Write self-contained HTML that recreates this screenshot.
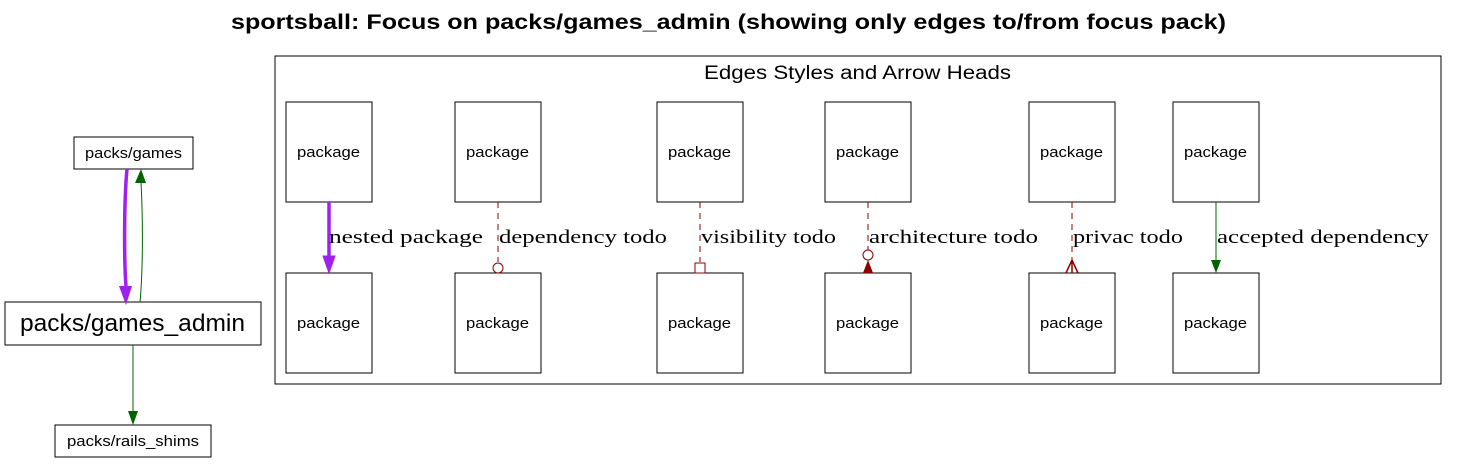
<!DOCTYPE html>
<html><head><style>body{margin:0;background:#fff}</style></head><body>
<svg width="1458" height="463" xmlns="http://www.w3.org/2000/svg" font-family="Liberation Sans, sans-serif">
<rect width="1458" height="463" fill="#fff"/>
<text x="231" y="29" font-size="21" font-weight="bold" textLength="995" lengthAdjust="spacingAndGlyphs">sportsball: Focus on packs/games_admin (showing only edges to/from focus pack)</text>
<rect x="275" y="56" width="1166" height="328" fill="none" stroke="#000"/>
<text x="704" y="79" font-size="19" textLength="307" lengthAdjust="spacingAndGlyphs">Edges Styles and Arrow Heads</text>
<g fill="none" stroke="#000">
<rect x="286" y="102" width="86" height="100"/><rect x="455" y="102" width="86" height="100"/><rect x="657" y="102" width="86" height="100"/><rect x="825" y="102" width="86" height="100"/><rect x="1029" y="102" width="86" height="100"/><rect x="1173" y="102" width="86" height="100"/>
<rect x="286" y="273" width="86" height="100"/><rect x="455" y="273" width="86" height="100"/><rect x="657" y="273" width="86" height="100"/><rect x="825" y="273" width="86" height="100"/><rect x="1029" y="273" width="86" height="100"/><rect x="1173" y="273" width="86" height="100"/>
<rect x="74" y="137" width="119" height="32"/><rect x="5" y="302" width="256" height="43"/><rect x="55" y="425" width="156" height="32"/>
</g>
<g font-size="15">
<text x="297" y="157" textLength="63" lengthAdjust="spacingAndGlyphs">package</text><text x="466" y="157" textLength="63" lengthAdjust="spacingAndGlyphs">package</text><text x="668" y="157" textLength="63" lengthAdjust="spacingAndGlyphs">package</text><text x="836" y="157" textLength="63" lengthAdjust="spacingAndGlyphs">package</text><text x="1040" y="157" textLength="63" lengthAdjust="spacingAndGlyphs">package</text><text x="1184" y="157" textLength="63" lengthAdjust="spacingAndGlyphs">package</text>
<text x="297" y="328" textLength="63" lengthAdjust="spacingAndGlyphs">package</text><text x="466" y="328" textLength="63" lengthAdjust="spacingAndGlyphs">package</text><text x="668" y="328" textLength="63" lengthAdjust="spacingAndGlyphs">package</text><text x="836" y="328" textLength="63" lengthAdjust="spacingAndGlyphs">package</text><text x="1040" y="328" textLength="63" lengthAdjust="spacingAndGlyphs">package</text><text x="1184" y="328" textLength="63" lengthAdjust="spacingAndGlyphs">package</text>
<text x="85" y="158" textLength="97" lengthAdjust="spacingAndGlyphs">packs/games</text>
<text x="20" y="331" font-size="24" textLength="225" lengthAdjust="spacingAndGlyphs">packs/games_admin</text>
<text x="67" y="446" textLength="132" lengthAdjust="spacingAndGlyphs">packs/rails_shims</text>
</g>
<path d="M329 202V258" stroke="#a020f0" stroke-width="3.5"/><path d="M323 256L329 273L335 256Z" fill="#a020f0" stroke="#a020f0"/>
<g stroke="#8b0000" stroke-dasharray="6,5" fill="none"><path d="M498 202V262"/><path d="M700 202V262"/><path d="M868 202V250"/><path d="M1072 202V262"/></g>
<circle cx="498" cy="268" r="5" fill="#fff" stroke="#8b0000"/>
<rect x="695" y="263" width="10" height="10" fill="#fff" stroke="#8b0000"/>
<circle cx="868" cy="255" r="5" fill="#fff" stroke="#8b0000"/><path d="M863 273L868 260L873 273Z" fill="#8b0000"/>
<path d="M1066 273L1072 260L1078 273M1072 260V273" fill="none" stroke="#8b0000" stroke-width="1.5"/>
<path d="M1216 202V260" stroke="#006400"/><path d="M1211 260L1216 273L1221 260Z" fill="#006400"/>
<g font-family="Liberation Serif, serif" font-size="19">
<text x="329" y="243" textLength="154" lengthAdjust="spacingAndGlyphs">nested package</text>
<text x="499" y="243" textLength="168" lengthAdjust="spacingAndGlyphs">dependency todo</text>
<text x="701" y="243" textLength="135" lengthAdjust="spacingAndGlyphs">visibility todo</text>
<text x="869" y="243" textLength="169" lengthAdjust="spacingAndGlyphs">architecture todo</text>
<text x="1073" y="243" textLength="110" lengthAdjust="spacingAndGlyphs">privac todo</text>
<text x="1217" y="243" textLength="212" lengthAdjust="spacingAndGlyphs">accepted dependency</text>
</g>
<path d="M127 169C124 200 124 260 126 287" stroke="#a020f0" stroke-width="3.5" fill="none"/><path d="M119 286L126 305L132 286Z" fill="#a020f0"/>
<path d="M140 302C143 270 143 220 141 182" stroke="#006400" fill="none"/><path d="M135 183L141 169L146 183Z" fill="#006400"/>
<path d="M133 345V412" stroke="#006400"/><path d="M128 411L133 425L138 411Z" fill="#006400"/>
</svg>
</body></html>
